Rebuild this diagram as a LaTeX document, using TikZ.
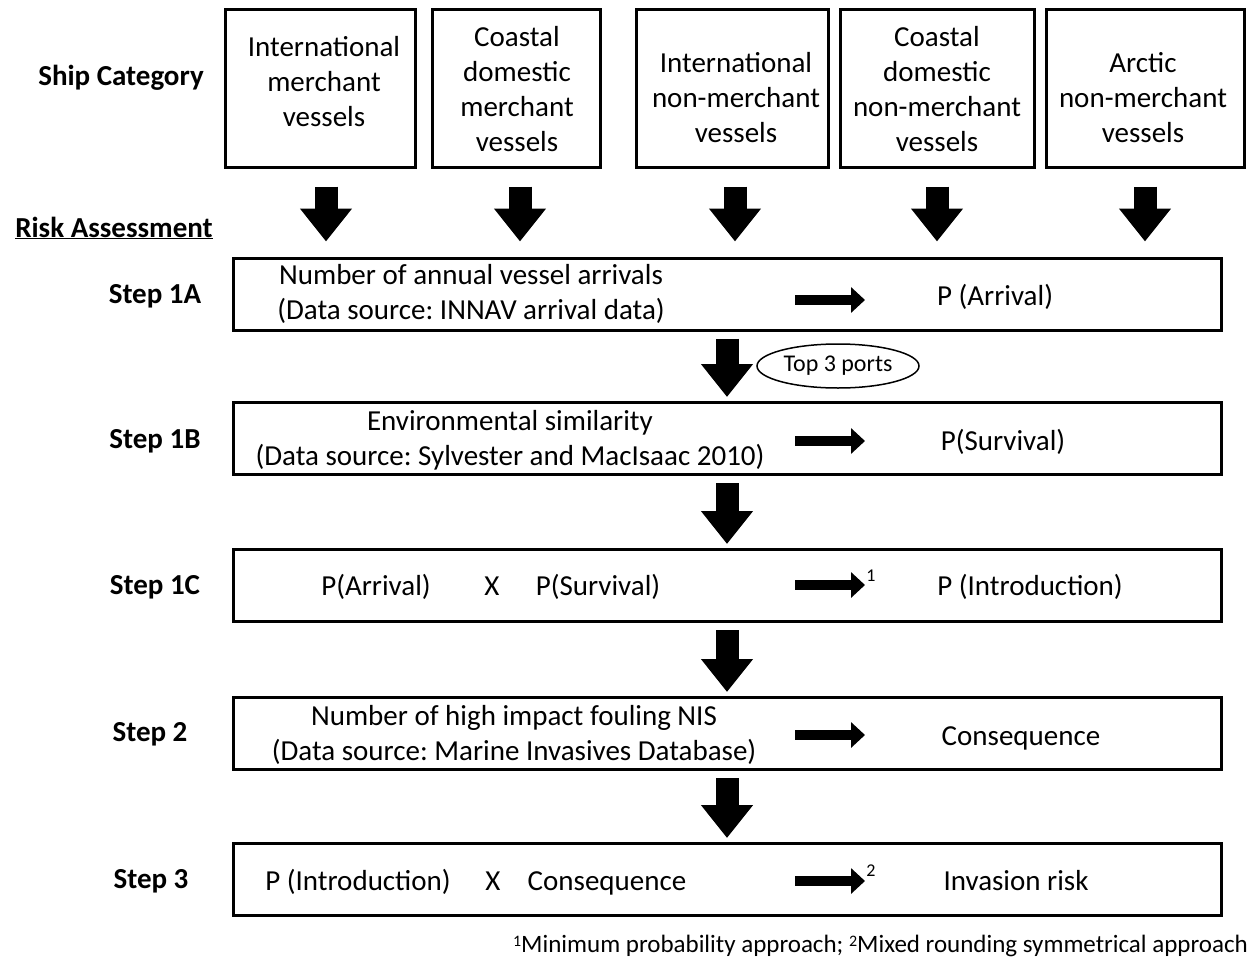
\documentclass[tikz,border=0pt]{standalone}
\usepackage{fontspec}
\setmainfont{Carlito}
\usetikzlibrary{arrows.meta,shapes.geometric,calc}
\frenchspacing
\begin{document}
\begin{tikzpicture}[x=1pt,y=-1pt,
  base/.style={font=\fontsize{29}{35}\selectfont, inner sep=0pt},
  catbox/.style={draw, line width=3pt, minimum height=157pt, inner sep=0pt},
  cattext/.style={base, align=center},
  stepbox/.style={draw, line width=3pt, minimum width=988pt, minimum height=72pt, inner sep=0pt},
  steplabel/.style={base, font=\fontsize{29}{35}\selectfont\bfseries},
  txt/.style={base, align=center},
  one/.style={base, text height=19pt, text depth=0pt},
  bigarrow/.style={line width=23pt, -{Triangle[width=50pt,length=33pt]}},
  smallarrow/.style={line width=10pt, -{Triangle[width=25pt,length=14pt]}},
  supnum/.style={font=\fontsize{18}{20}\selectfont, inner sep=0pt}
]
\useasboundingbox (0,0) rectangle (1260,974);

% headers
\node[steplabel] (shipcat) at (121,78) {Ship Category};
\node[steplabel] (riskass) at (114,228) {\underline{Risk Assessment}};

% category boxes
\node[catbox, minimum width=190pt] (b1) at (320,88.5) {};
\node[catbox, minimum width=168pt] (b2) at (516,88.5) {};
\node[catbox, minimum width=192pt] (b3) at (732,88.5) {};
\node[catbox, minimum width=194pt] (b4) at (937,88.5) {};
\node[catbox, minimum width=198pt] (b5) at (1145,88.5) {};
\node[cattext] (t1) at (324,82) {International\\merchant\\vessels};
\node[cattext] (t2) at (517,89) {Coastal\\domestic\\merchant\\vessels};
\node[cattext] (t3) at (736,98) {International\\non-merchant\\vessels};
\node[cattext] (t4) at (937,89) {Coastal\\domestic\\non-merchant\\vessels};
\node[cattext] (t5) at (1143,98) {Arctic\\non-merchant\\vessels};

% step boxes
\node[stepbox] (s1a) at (727,294) {};
\node[stepbox] (s1b) at (727,438.5) {};
\node[stepbox] (s1c) at (727,585.5) {};
\node[stepbox] (s2) at (727,733.5) {};
\node[stepbox] (s3) at (727,879.5) {};

% step labels
\node[steplabel] (l1a) at (155,296) {Step 1A};
\node[steplabel] (l1b) at (155,441) {Step 1B};
\node[steplabel] (l1c) at (155,587) {Step 1C};
\node[steplabel] (l2) at (150,734) {Step 2};
\node[steplabel] (l3) at (151,881) {Step 3};

% top arrows
\draw[bigarrow, shorten <=18pt, shorten >=15pt] ([xshift=6pt]b1.south) -- ([xshift=6pt]b1.south |- s1a.north);
\draw[bigarrow, shorten <=18pt, shorten >=15pt] ([xshift=4pt]b2.south) -- ([xshift=4pt]b2.south |- s1a.north);
\draw[bigarrow, shorten <=18pt, shorten >=15pt] ([xshift=3pt]b3.south) -- ([xshift=3pt]b3.south |- s1a.north);
\draw[bigarrow, shorten <=18pt, shorten >=15pt] (b4.south) -- (b4.south |- s1a.north);
\draw[bigarrow, shorten <=18pt, shorten >=15pt] (b5.south) -- (b5.south |- s1a.north);

% step arrows
\draw[bigarrow, shorten <=7pt, shorten >=4pt] (s1a.south) -- (s1b.north);
\draw[bigarrow, shorten <=7pt, shorten >=4pt] (s1b.south) -- (s1c.north);
\draw[bigarrow, shorten <=7pt, shorten >=4pt] (s1c.south) -- (s2.north);
\draw[bigarrow, shorten <=7pt, shorten >=4pt] (s2.south) -- (s3.north);

\node[draw, ellipse, line width=1.5pt, minimum width=162pt, minimum height=44pt, inner sep=0pt,
      font=\fontsize{24}{26}\selectfont] (ports) at (838,366) {Top 3 ports};

% step 1A
\node[txt] (n1a) at (471,294) {Number of annual vessel arrivals\\(Data source: INNAV arrival data)};
\node[one] (r1a) at (995,296) {P (Arrival)};
% step 1B
\node[txt] (n1b) at (510,440) {Environmental similarity\\(Data source: Sylvester and MacIsaac 2010)};
\node[one] (r1b) at (1003,441) {P(Survival)};
% step 1C
\node[one] (c1) at (376,586) {P(Arrival)};
\node[one] (cx) at (492,586) {X};
\node[one] (c2) at (598,586) {P(Survival)};
\node[one] (r1c) at (1030,586) {P (Introduction)};
% step 2
\node[txt] (n2) at (514,735) {Number of high impact fouling NIS\\(Data source: Marine Invasives Database)};
\node[one] (r2) at (1021,736) {Consequence};
% step 3
\node[one] (d1) at (358,881) {P (Introduction)};
\node[one] (dx) at (493,881) {X};
\node[one] (d2) at (607,881) {Consequence};
\node[one] (r3) at (1016,881) {Invasion risk};

% small arrows
\coordinate (a1s) at (795,300); \coordinate (a1e) at (865,300);
\coordinate (a2s) at (795,441); \coordinate (a2e) at (865,441);
\coordinate (a3s) at (795,585); \coordinate (a3e) at (865,585);
\coordinate (a4s) at (795,735); \coordinate (a4e) at (865,735);
\coordinate (a5s) at (795,881); \coordinate (a5e) at (865,881);
\draw[smallarrow] (a1s) -- (a1e);
\draw[smallarrow] (a2s) -- (a2e);
\draw[smallarrow] (a3s) -- (a3e);
\draw[smallarrow] (a4s) -- (a4e);
\draw[smallarrow] (a5s) -- (a5e);
\node[supnum] (sup1) at (871,576) {1};
\node[supnum] (sup2) at (871,871) {2};

% footnote
\node[base, anchor=east, font=\fontsize{25}{28}\selectfont] (fn) at (1248,946)
  {\raisebox{6.5pt}{\fontsize{16}{18}\selectfont 1}Minimum probability approach; \raisebox{6.5pt}{\fontsize{16}{18}\selectfont 2}Mixed rounding symmetrical approach};
\end{tikzpicture}
\end{document}
